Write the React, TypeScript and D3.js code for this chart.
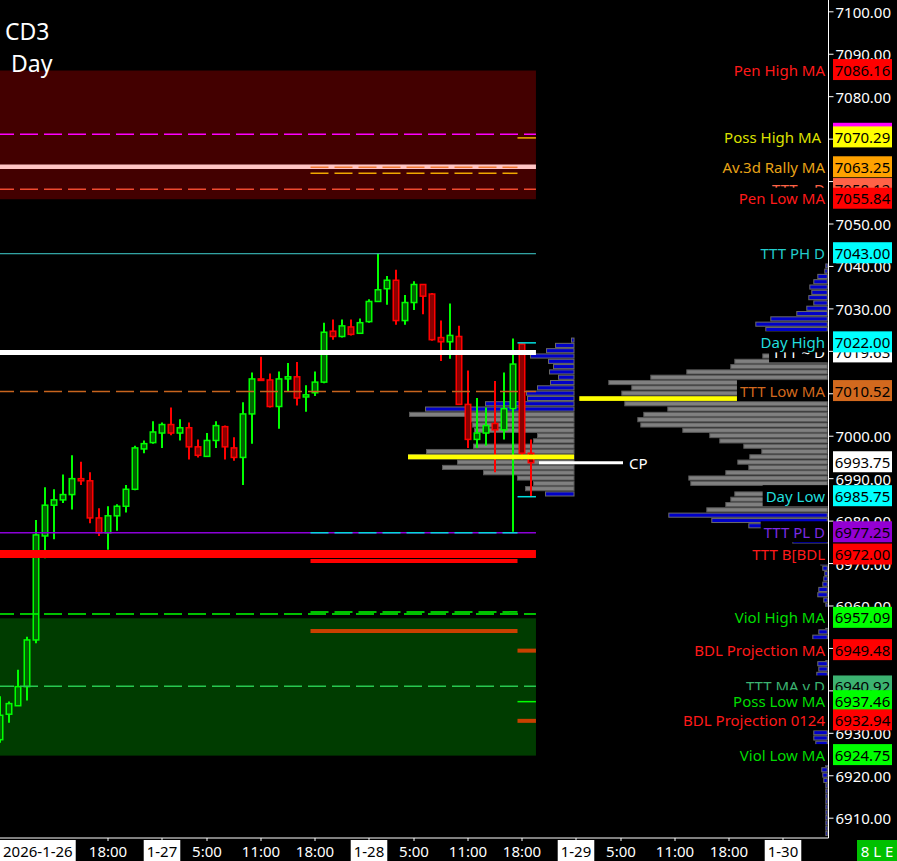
import React from 'react';
import * as d3 from 'd3';

const FONT = "'Noto Sans', 'DejaVu Sans', sans-serif";

// ---- Hourly candles, first bar = 2026-1-26 05:00 ----
const opens = [6928.5, 6934.5, 6936.5, 6941, 6952, 6976.5, 6983.75, 6985, 6986.25, 6990, 6989.5, 6980.75, 6977.25, 6981.25, 6983.5, 6987.5, 6997, 6998.5, 7000.75, 7002.75, 7000.75, 7002, 6997.5, 6995.25, 6999, 7002.25, 6997.25, 6995, 7005.25, 7013.5, 7013.25, 7007, 7013.5, 7014, 7009.25, 7010.25, 7012.75, 7024.75, 7023.5, 7025.75, 7024.25, 7027, 7031.75, 7034.75, 7036.75, 7027.25, 7031.5, 7035.75, 7033.5, 7023.25, 7022.25, 7023.5, 7007.5, 6999.25, 7000.75, 7003, 7001.5, 7006.5, 7021.75, 6996];
const highs = [6938.75, 6937.5, 6945, 6952.75, 6980.25, 6988, 6987.5, 6991, 6995.5, 6994, 6991.5, 6983, 6983.5, 6984, 6988.5, 6997.75, 6999, 7003.5, 7003.25, 7006.75, 7004, 7003.25, 6999.25, 7000.75, 7003.5, 7002.5, 6999.75, 7008, 7015, 7018.75, 7014.75, 7015.25, 7017.25, 7017.5, 7012, 7015.25, 7026.75, 7027.5, 7027.5, 7027.5, 7027.75, 7032.25, 7043, 7037.75, 7039.25, 7033.25, 7036.5, 7035.75, 7033.75, 7027.25, 7031.25, 7026, 7015.5, 7009, 7006.75, 7013, 7015, 7023, 7022, 6999.25];
const lows = [6927.75, 6932.5, 6936.5, 6937.75, 6951.25, 6971.25, 6975.75, 6984.25, 6982.75, 6988.5, 6979.5, 6976.5, 6973.25, 6977.75, 6982, 6987.25, 6996, 6998.25, 6997.25, 7000.25, 6999, 6994.5, 6995, 6995.25, 6997.25, 6994.5, 6994.25, 6988.5, 6998.25, 7013, 7006.75, 7001.75, 7010.5, 7007.25, 7005.75, 7009.5, 7012.5, 7022.75, 7023.25, 7023.75, 7024.25, 7026.75, 7031.75, 7031, 7026.25, 7026.25, 7029.75, 7028.75, 7022.5, 7017.75, 7018.25, 7007.5, 6997.25, 6997.25, 6997.75, 6991.5, 6999.25, 6977.5, 6994.5, 6985.75];
const closes = [6934.25, 6937, 6941, 6952, 6976.75, 6983.75, 6985, 6986.25, 6990, 6989.5, 6980.75, 6977.25, 6981.25, 6983.5, 6987.5, 6997.25, 6998.25, 7001, 7002.75, 7000.75, 7002, 6997.5, 6995.5, 6999, 7002.5, 6997.5, 6995, 7005.25, 7013.5, 7013.25, 7007, 7013.5, 7014, 7009, 7009.75, 7012.75, 7024.5, 7023.5, 7026, 7024, 7026.75, 7031.75, 7034.5, 7036.75, 7027.25, 7031.5, 7035.75, 7033, 7022.75, 7022.25, 7023.75, 7007.5, 6999.25, 7000.75, 7002.5, 7001.5, 7006.5, 7017, 6996, 6993.75];

// ---- X axis labels (bar index) ----
const xTickLabels = ['2026-1-26', '18:00', '1-27', '5:00', '11:00', '18:00', '1-28', '5:00', '11:00', '18:00', '1-29', '5:00', '11:00', '18:00', '1-30'];
const xTickIndex = [-5, 12, 18, 23, 29, 35, 41, 46, 52, 58, 64, 69, 75, 81, 87];

// ---- Y axis ticks ----
const yTickValues = d3.range(6910, 7101, 10);

// ---- Zones ----
const zoneTops = [7086.16, 6957.09];
const zoneBottoms = [7055.84, 6924.75];
const zoneColors = ['#430000', '#003c00'];

// ---- Level lines ----
const lineValues = [7071.14, 7063.5, 7058.18, 7043, 7019.7, 7010.52, 6977.25, 6972.25, 6958.1, 6941.07,
  7063.36, 7061.95, 6977.25, 6970.6, 6958.6, 6954.1,
  7070.29, 7022, 6985.75, 6949.48, 6937.46, 6932.94];
const lineSpans = ['full', 'full', 'full', 'full', 'full', 'full', 'full', 'full', 'full', 'full',
  'prior', 'prior', 'prior', 'prior', 'prior', 'prior',
  'current', 'current', 'current', 'current', 'current', 'current'];
const lineColors = ['#ff00ff', '#ffc4c4', '#f04a30', '#40d0d0', '#ffffff', '#c8641e', '#8c00d8', '#ff0000', '#00ff00', '#28c850',
  '#f07830', '#f0a800', '#00d8d8', '#ff0000', '#00ff00', '#c84000',
  '#f0b000', '#00e0e0', '#00e0e0', '#c84000', '#00ff00', '#c84000'];
const lineWidths = [1.5, 4.5, 1.5, 1, 5, 1.5, 1.5, 8, 1.5, 1.5,
  1.5, 1.5, 1.5, 4, 1.5, 4,
  1.5, 1.5, 1.5, 4, 1.5, 4];
const lineDashed = [1, 0, 1, 0, 0, 1, 0, 0, 1, 1,
  1, 1, 1, 0, 1, 0,
  0, 0, 0, 0, 0, 0];

// ---- Session volume profile (rows of 1.25 pts, from top) ----
const profATop = 7023.25;
const profAVolumes = [3, 19, 28, 44, 26, 21, 25, 16, 24, 37, 48, 47, 89, 149, 165, 104, 102, 100, 37, 41, 101, 148, 166, 117, 132, 91, 57, 41, 49, 29];
const profAValueArea = [14, 28];
const profAPoc = 22;

// ---- Composite volume profile ----
const profBTop = 7040.75;
const profBVolumes = [2, 3, 10, 14, 18, 16, 19, 14, 21, 31, 57, 72, 62, 50, 45, 48, 55,
  65, 93, 97, 141, 177, 219, 196, 206, 248, 203, 160, 184, 190, 187, 145, 118, 108, 84, 66, 78, 90, 79, 102, 139, 137, 64, 93, 97, 102, 121,
  159, 116, 79, 30, 20, 35, 10, 8, 6, 7, 5, 3, 4, 5, 9, 10, 4, 2, 2, 2, 2, 2, 9, 15, 2, 2, 2, 2, 10, 9, 11,
  2, 2, 2, 2, 2, 2, 2, 2, 2, 2, 14, 14, 12, 2, 2, 2, 2, 6, 5, 4, 2, 2, 2, 2, 2, 2, 2, 2, 2, 2];
const profBValueArea = [17, 46];
const profBPoc = 25;

// ---- Price labels (draw order) ----
const labelNames = ['Pen High MA', '', 'Poss High MA\u00a0', 'Av.3d Rally MA', 'TTT ~ D', 'Pen Low MA', 'TTT PH D', 'TTT ~ D', 'Day High', 'TTT Low MA', '', 'Day Low', 'TTT PL D', 'TTT B[BDL', 'Viol High MA', 'BDL Projection MA', 'TTT MA v D', 'Poss Low MA', 'BDL Projection 0124', 'Viol Low MA'];
const labelValues = [7086.16, 7071.14, 7070.29, 7063.25, 7058.12, 7055.84, 7043.00, 7019.63, 7022.00, 7010.52, 6993.75, 6985.75, 6977.25, 6972.00, 6957.09, 6949.48, 6940.92, 6937.46, 6932.94, 6924.75];
const labelShowValue = [1, 0, 1, 1, 1, 1, 1, 1, 1, 1, 1, 1, 1, 1, 1, 1, 1, 1, 1, 1];
const labelBoxColors = ['#ff0000', '#ff00ff', '#ffff00', '#ffa200', '#ff6347', '#ff0000', '#00ffff', '#ffffff', '#00ffff', '#d2691e', '#ffffff', '#00ffff', '#9400d3', '#ff0000', '#00ff00', '#ff0000', '#3cb371', '#00ff00', '#ff0000', '#00ff00'];
const labelTextColors = ['#ff1a1a', '#ff00ff', '#dde000', '#e8a317', '#ff6347', '#ff1a1a', '#22cccc', '#ffffff', '#22dddd', '#d2691e', '#ffffff', '#22dddd', '#7b2be0', '#ff1a1a', '#00dd00', '#ff1a1a', '#3cb371', '#00dd00', '#ff1a1a', '#00dd00'];

let ctx: CanvasRenderingContext2D | null = null;
function measure(text: string, size: number): number {
  if (!ctx) ctx = document.createElement('canvas').getContext('2d');
  if (!ctx) return text.length * size * 0.55;
  ctx.font = `${size}px 'Noto Sans'`;
  return ctx.measureText(text).width;
}

export default function App() {
  const W = 897, H = 861;
  const axisX = 828.5;
  const xAxisY = 838;
  const y = d3.scaleLinear().domain([6910, 7100]).range([818.2, 11.8]);
  const x = d3.scaleLinear().domain([0, 1]).range([0, 9]);
  const vol = d3.scaleLinear().domain([0, 1]).range([0, 1]);

  const spanRange: Record<string, [number, number]> = {
    full: [Math.max(0, x(-1)), x(59.55)],
    prior: [x(34.5), x(57.5)],
    current: [x(57.5), x(59.55)],
  };

  const profAAnchor = x(63.78);
  const profBAnchor = 827.3;
  const rowSize = 1.25;

  const labelCenters = labelValues.map((v) => y(v) - 1);
  const tickHidden = (v: number) => labelCenters.some((c) => Math.abs(c - y(v)) < 8);

  const renderProfile = (top: number, vols: number[], va: number[], poc: number, anchor: number, key: string) =>
    vols.map((v, k) => {
      if (v <= 0) return null;
      const y0 = y(top - rowSize * k);
      const y1 = y(top - rowSize * (k + 1));
      const w = vol(v);
      const inVA = k >= va[0] && k <= va[1];
      if (k === poc) {
        return <rect key={key + k} x={anchor - w} y={y0 + 0.3} width={w} height={y1 - y0 - 0.6} fill="#ffff00" />;
      }
      return (
        <rect key={key + k} x={anchor - w + 0.5} y={y0 + 0.5} width={w - 0.5} height={y1 - y0 - 1.2}
          fill={inVA ? '#808080' : '#0000c8'} stroke={inVA ? '#5a5a5a' : '#6a6a6a'} strokeWidth={1} />
      );
    });

  const lastClose = closes[closes.length - 1];

  return (
    <div style={{ position: 'fixed', left: 0, top: 0, width: W, height: H, background: '#000' }}>
      <svg width={W} height={H} style={{ display: 'block' }} fontFamily={FONT}>
        <defs>
          <clipPath id="plot"><rect x={0} y={0} width={axisX} height={xAxisY} /></clipPath>
        </defs>
        <rect x={0} y={0} width={W} height={H} fill="#000" />

        <g clipPath="url(#plot)">
          {zoneTops.map((t, i) => (
            <rect key={'z' + i} x={0} y={y(t)} width={x(59.55)} height={y(zoneBottoms[i]) - y(t)} fill={zoneColors[i]} />
          ))}

          {renderProfile(profATop, profAVolumes, profAValueArea, -1, profAAnchor, 'pa')}

          {opens.map((o, i) => {
            const c = closes[i];
            const up = c >= o;
            const bright = up ? '#00ff00' : '#ff0000';
            const dark = up ? '#006400' : '#8b0000';
            const top = y(Math.max(o, c));
            const h = Math.max(1.5, Math.abs(y(o) - y(c)));
            return (
              <g key={'c' + i}>
                <line x1={x(i)} x2={x(i)} y1={y(highs[i])} y2={y(lows[i])} stroke={bright} strokeWidth={2} />
                <rect x={x(i) - 2.75} y={top} width={5.5} height={h} fill={dark} stroke={bright} strokeWidth={1.5} />
              </g>
            );
          })}

          {lineValues.map((v, i) => {
            const [a, b] = spanRange[lineSpans[i]];
            return (
              <line key={'l' + i} x1={a} x2={b} y1={y(v)} y2={y(v)} stroke={lineColors[i]} strokeWidth={lineWidths[i]}
                strokeDasharray={lineDashed[i] ? '18 6' : undefined}
                strokeDashoffset={lineSpans[i] === 'full' ? 4 : 0} />
            );
          })}

          {(() => {
            const k = profAPoc;
            const y0 = y(profATop - rowSize * k);
            const y1 = y(profATop - rowSize * (k + 1));
            const w = vol(profAVolumes[k]);
            return <rect x={profAAnchor - w} y={y0 + 0.3} width={w} height={y1 - y0 - 0.6} fill="#ffff00" />;
          })()}

          <line x1={539} x2={623} y1={y(lastClose)} y2={y(lastClose)} stroke="#fff" strokeWidth={3} />
          <text x={629} y={y(lastClose)} fill="#fff" fontSize={15} dominantBaseline="central">CP</text>

          {renderProfile(profBTop, profBVolumes, profBValueArea, profBPoc, profBAnchor, 'pb')}
        </g>

        {/* Title */}
        <text x={5} y={40} fill="#fff" fontSize={23}>CD3</text>
        <text x={11} y={72} fill="#fff" fontSize={23}>Day</text>

        {/* Right axis */}
        <line x1={axisX} x2={axisX} y1={0} y2={xAxisY} stroke="#fff" strokeWidth={1} />
        {yTickValues.map((v) => (
          <g key={'yt' + v}>
            <line x1={axisX} x2={axisX + 5} y1={y(v)} y2={y(v)} stroke="#fff" strokeWidth={1} />
            {!tickHidden(v) && (
              <text x={891} y={y(v)} fill="#fff" fontSize={15} textAnchor="end" dominantBaseline="central">{v.toFixed(2)}</text>
            )}
          </g>
        ))}

        {/* Price labels */}
        {labelValues.map((v, i) => {
          const cy = labelCenters[i];
          const name = labelNames[i];
          const tw = name ? measure(name, 15) : 0;
          return (
            <g key={'lb' + i}>
              {name && <rect x={825 - tw - 3} y={cy - 10.5} width={tw + 6} height={21} fill="#000" />}
              {name && <text x={825} y={cy} fill={labelTextColors[i]} fontSize={15} textAnchor="end" dominantBaseline="central">{name}</text>}
              <rect x={833} y={cy - 10.5} width={59} height={21} fill={labelBoxColors[i]} />
              {labelShowValue[i] ? (
                <text x={862.5} y={cy} fill="#000" fontSize={15} textAnchor="middle" dominantBaseline="central">{v.toFixed(2)}</text>
              ) : null}
            </g>
          );
        })}

        {/* Bottom axis */}
        <line x1={0} x2={axisX} y1={xAxisY} y2={xAxisY} stroke="#fff" strokeWidth={1} />
        {xTickLabels.map((lab, i) => {
          const cx = x(xTickIndex[i]);
          const isDay = lab.includes('-');
          const tw = measure(lab, 15);
          const bx = Math.max(0, cx - tw / 2 - 3);
          const tx = bx + 3 + tw / 2;
          return (
            <g key={'xt' + i}>
              {cx >= 0 && <line x1={cx} x2={cx} y1={xAxisY} y2={xAxisY + 3} stroke="#fff" strokeWidth={1} />}
              {isDay && <rect x={bx} y={840} width={tw + 6} height={21} fill="#fff" />}
              <text x={tx} y={851} fill={isDay ? '#000' : '#fff'} fontSize={15} textAnchor="middle" dominantBaseline="central">{lab}</text>
            </g>
          );
        })}

        <rect x={857} y={840} width={40} height={21} fill="#00c000" />
        <text x={877} y={851} fill="#fff" fontSize={15} textAnchor="middle" dominantBaseline="central">8 L E</text>
      </svg>
    </div>
  );
}
